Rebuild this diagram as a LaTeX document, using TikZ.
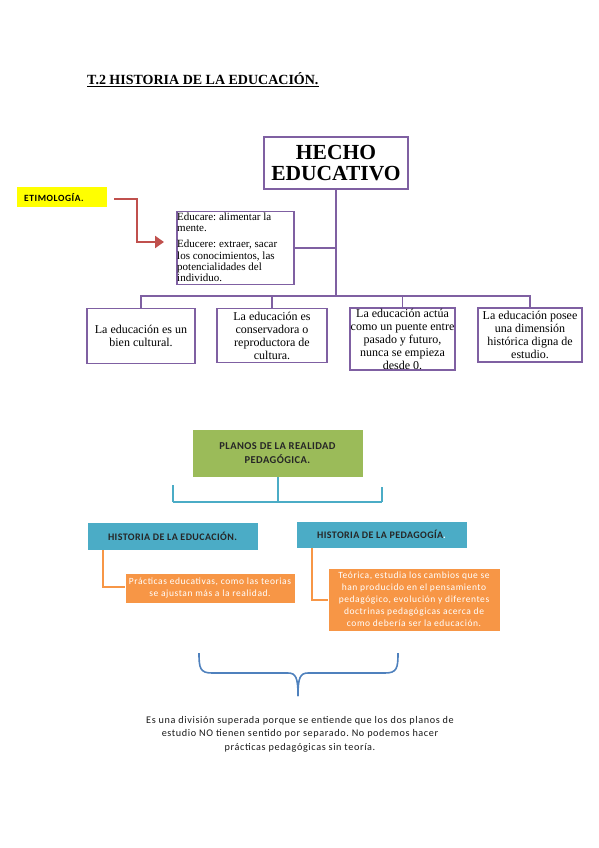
\documentclass[tikz,border=0pt]{standalone}
\usepackage{fontspec}
\setmainfont{Liberation Serif}
\newfontfamily\calfont{Carlito}
\newfontfamily\calsp{Carlito}[LetterSpace=6]
\newfontfamily\calspb{Carlito}[LetterSpace=4]
\usetikzlibrary{arrows.meta}
\frenchspacing
\definecolor{purp}{HTML}{7F60A2}
\definecolor{redarr}{HTML}{C0504D}
\definecolor{greenb}{HTML}{9BBB59}
\definecolor{blueb}{HTML}{4BACC6}
\definecolor{orangeb}{HTML}{F79646}
\definecolor{braceb}{HTML}{4F81BD}
\definecolor{yell}{HTML}{FFFF00}
\tikzset{
  pbox/.style={draw=purp, line width=1.5pt, fill=white, inner sep=0pt, align=center, font=\fontsize{12}{13}\selectfont},
  pline/.style={draw=purp, line width=1.5pt},
  bline/.style={draw=blueb, line width=1.6pt},
  oline/.style={draw=orangeb, line width=1.6pt},
  bluebox/.style={fill=blueb, draw=white, line width=0.8pt, font=\calspb\bfseries\fontsize{10}{11}\selectfont, text=black!85},
  orbox/.style={fill=orangeb, draw=white, line width=0.8pt, text=white, align=center, font=\calsp\fontsize{9.5}{12}\selectfont},
}
\begin{document}
\begin{tikzpicture}[x=1pt,y=-1pt]
\useasboundingbox (0,0) rectangle (599,848);
% title
\node[anchor=base west, inner sep=0pt, font=\bfseries\fontsize{14}{16}\selectfont] (title) at (87,85) {\underline{T.2 HISTORIA DE LA EDUCACIÓN.}};
% top diagram
\node[pbox, minimum width=144pt, minimum height=52pt, font=\bfseries\fontsize{21.5}{21}\selectfont] (hecho) at (336,163) {HECHO\\EDUCATIVO};
\node[pbox, minimum width=117pt, minimum height=73pt] (edu) at (235.5,248) {};
\node[anchor=north west, inner sep=0pt, align=left, font=\fontsize{11}{11.3}\selectfont] (edutxt) at (177,212.5) {Educare: alimentar la\\mente.\\[5pt]Educere: extraer, sacar\\los conocimientos, las\\potencialidades del\\individuo.};
\node[fill=yell, minimum width=90pt, minimum height=20pt, inner sep=0pt] (etym) at (62,197) {};
\node[anchor=west, inner sep=0pt, font=\calsp\bfseries\fontsize{9.5}{11}\selectfont, text=black] (etymtxt) at (24,197.5) {ETIMOLOGÍA.};
\coordinate (ra) at (114,199);
\coordinate (rb) at (137,199);
\coordinate (rc) at (137,242);
\coordinate (rd) at (164,242);
\draw[redarr, line width=2.6pt, -{Triangle[length=9pt,width=12pt]}] (ra) -- (rb) -- (rc) -- (rd);

\node[pbox, minimum width=108pt, minimum height=55pt] (b1) at (141,336) {La educación es un\\bien cultural.};
\node[pbox, minimum width=110pt, minimum height=54pt] (b2) at (272,335.5) {La educación es\\conservadora o\\reproductora de\\cultura.};
\node[pbox, minimum width=105pt, minimum height=62pt] (b3) at (402.5,339) {La educación actúa\\como un puente entre\\pasado y futuro,\\nunca se empieza\\desde 0.};
\node[pbox, minimum width=104pt, minimum height=54pt] (b4) at (530,335) {La educación posee\\una dimensión\\histórica digna de\\estudio.};
\coordinate (bar) at (338,296);
\draw[pline] (hecho.south) -- (hecho.south |- bar);
\draw[pline] (edu.east) -- (hecho.south |- edu.east);
\draw[pline, line cap=rect] (b1.north |- bar) -- (b4.north |- bar);
\foreach \b in {b1,b2,b3,b4} {\draw[pline] (\b.north |- bar) -- (\b.north);}

% lower diagram
\node[fill=greenb, draw=white, line width=0.8pt, minimum width=171pt, minimum height=48pt, align=center, font=\calspb\bfseries\fontsize{10.5}{13.5}\selectfont, text=black!85] (planos) at (277.5,453) {PLANOS DE LA REALIDAD\\PEDAGÓGICA.};
\node[bluebox, minimum width=171pt, minimum height=28pt] (he) at (172.5,536) {HISTORIA DE LA EDUCACIÓN.};
\node[bluebox, minimum width=171pt, minimum height=27pt] (hp) at (381.5,534.5) {HISTORIA DE LA PEDAGOGÍA\textcolor{white}{.}};
\coordinate (bbar) at (278,502);
\draw[bline] (planos.south -| bbar) -- (bbar);
\draw[bline] ([xshift=-105pt]bbar) -- ([xshift=104pt]bbar);
\draw[bline] ([xshift=-105pt]bbar) -- ([xshift=-105pt,yshift=17pt]bbar);
\draw[bline] ([xshift=104pt]bbar) -- ([xshift=104pt,yshift=15pt]bbar);

\node[orbox, minimum width=170pt, minimum height=30pt] (o1) at (210,588) {Prácticas educativas, como las teorias\\se ajustan más a la realidad.};
\node[orbox, minimum width=172pt, minimum height=63pt] (o2) at (414,599.5) {Teórica, estudia los cambios que se\\han producido en el pensamiento\\pedagógico, evolución y diferentes\\doctrinas pedagógicas acerca de\\como debería ser la educación.};
\coordinate (ol) at (103,587);
\coordinate (orr) at (312,600);
\draw[oline] (he.south -| ol) -- (ol) -- (o1.west |- ol);
\draw[oline] (hp.south -| orr) -- (orr) -- (o2.west |- orr);

% brace
\coordinate (brL) at (199,653);
\coordinate (brR) at (398,653);
\coordinate (brM) at (298,696);
\draw[braceb, line width=1.6pt] (brL) .. controls (199,668) and (200,673) .. (212,673) -- (288,673) .. controls (296,673) and (298,678) .. (brM);
\draw[braceb, line width=1.6pt] (brR) .. controls (398,668) and (397,673) .. (385,673) -- (308,673) .. controls (300,673) and (298,678) .. (brM);
\node[align=center, font=\calsp\fontsize{10.2}{13.5}\selectfont, text=black!90] (concl) at (300,734) {Es una división superada porque se entiende que los dos planos de\\estudio NO tienen sentido por separado. No podemos hacer\\prácticas pedagógicas sin teoría.};
\end{tikzpicture}
\end{document}
